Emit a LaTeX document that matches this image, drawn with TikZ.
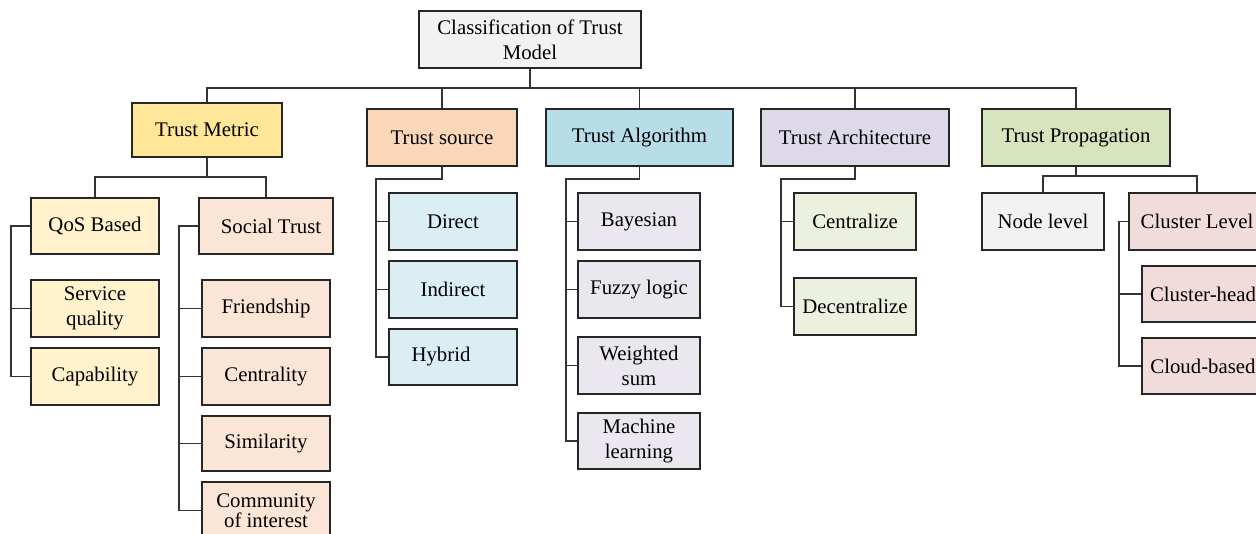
\documentclass[tikz,border=0pt]{standalone}
\usepackage{fontspec}
\setmainfont{Liberation Serif}
\definecolor{cTitle}{HTML}{F2F2F2}
\definecolor{cMetric}{HTML}{FFE699}
\definecolor{cMetricL}{HTML}{FFF2CC}
\definecolor{cSource}{HTML}{FAD7B8}
\definecolor{cSocialL}{HTML}{FBE5D6}
\definecolor{cAlg}{HTML}{B7DDE8}
\definecolor{cSourceL}{HTML}{DAEEF3}
\definecolor{cArch}{HTML}{DDD9E8}
\definecolor{cAlgL}{HTML}{EAE7EF}
\definecolor{cProp}{HTML}{D7E4BD}
\definecolor{cArchL}{HTML}{EBF1DE}
\definecolor{cCluster}{HTML}{F2DCDB}
\begin{document}
\begin{tikzpicture}[x=1pt,y=-1pt,
  box/.style={draw=black!85,line width=1.2pt,inner sep=0pt,align=center,
    font=\fontsize{20.8}{25}\selectfont},
  conn/.style={draw=black!80,line width=1.1pt}]
\useasboundingbox (0,0) rectangle (1256,534);
\clip (0,0) rectangle (1256,534);
% nodes
\node[box,fill=cTitle,minimum width=222pt,minimum height=57pt] (title) at (530,39.5) {Classification of Trust\\Model};
\node[box,fill=cMetric,minimum width=150pt,minimum height=54pt] (tm) at (207,130) {Trust Metric};
\node[box,fill=cSource,minimum width=150pt,minimum height=57pt] (ts) at (442,137.5) {Trust source};
\node[box,fill=cAlg,minimum width=187pt,minimum height=57pt] (ta) at (639.5,137.5) {Trust Algorithm};
\node[box,fill=cArch,minimum width=188pt,minimum height=57pt] (tar) at (855,137.5) {Trust Architecture};
\node[box,fill=cProp,minimum width=188pt,minimum height=57pt] (tp) at (1076,137.5) {Trust Propagation};
% metric children
\node[box,fill=cMetricL,minimum width=128pt,minimum height=56pt] (qos) at (95,226) {QoS Based};
\node[box,fill=cSocialL,minimum width=134pt,minimum height=56pt] (soc) at (266,226) {\hspace*{10pt}Social Trust};
\node[box,fill=cMetricL,minimum width=128pt,minimum height=57pt] (sq) at (95,308.5) {Service\\quality};
\node[box,fill=cMetricL,minimum width=128pt,minimum height=57pt] (cap) at (95,376.5) {Capability};
\node[box,fill=cSocialL,minimum width=128pt,minimum height=57pt] (fr) at (266,308.5) {Friendship};
\node[box,fill=cSocialL,minimum width=128pt,minimum height=57pt] (cen) at (266,376.5) {Centrality};
\node[box,fill=cSocialL,minimum width=128pt,minimum height=55pt] (sim) at (266,443.5) {Similarity};
\node[box,fill=cSocialL,minimum width=128pt,minimum height=57pt,font=\fontsize{20.8}{17}\selectfont] (com) at (266,510.5) {Community\\of interest};
% source children
\node[box,fill=cSourceL,minimum width=128pt,minimum height=57pt] (dir) at (453,221.5) {Direct};
\node[box,fill=cSourceL,minimum width=128pt,minimum height=57pt] (ind) at (453,289.5) {Indirect};
\node[box,fill=cSourceL,minimum width=128pt,minimum height=56pt] (hyb) at (453,357) {Hybrid\hspace*{24pt}};
% algorithm children
\node[box,fill=cAlgL,minimum width=122pt,minimum height=57pt] (bay) at (639,221.5) {Bayesian};
\node[box,fill=cAlgL,minimum width=122pt,minimum height=57pt] (fuz) at (639,289.5) {Fuzzy logic};
\node[box,fill=cAlgL,minimum width=122pt,minimum height=57pt] (wei) at (639,365.5) {Weighted\\sum};
\node[box,fill=cAlgL,minimum width=122pt,minimum height=56pt] (mac) at (639,441) {Machine\\learning};
% architecture children
\node[box,fill=cArchL,minimum width=122pt,minimum height=57pt] (cent) at (855,221.5) {Centralize};
\node[box,fill=cArchL,minimum width=122pt,minimum height=57pt] (dec) at (855,306.5) {Decentralize};
% propagation children
\node[box,fill=cTitle,minimum width=122pt,minimum height=57pt] (nl) at (1043,221.5) {Node level};
\node[box,fill=cCluster,minimum width=136pt,minimum height=57pt] (cl) at (1197,221.5) {Cluster Level};
\node[box,fill=cCluster,minimum width=122pt,minimum height=56pt] (ch) at (1203,294) {Cluster-head};
\node[box,fill=cCluster,minimum width=122pt,minimum height=56pt] (cb) at (1203,366) {Cloud-based};
% connectors
\coordinate (bus) at (530,88);
\draw[conn] (title.south) -- (bus);
\draw[conn] (bus) -| (tm.north);
\draw[conn] (bus) -| (ts.north);
\draw[conn] (bus) -| (ta.north);
\draw[conn] (bus) -| (tar.north);
\draw[conn] (bus) -| (tp.north);
\coordinate (tmb) at (207,177);
\draw[conn] (tm.south) -- (tmb) -| (qos.north);
\draw[conn] (tmb) -| (soc.north);
\coordinate (qc) at (11,226);
\draw[conn] (qos.west) -- (qc) |- (cap.west);
\draw[conn] (qc) |- (sq.west);
\coordinate (sc) at (179,226);
\draw[conn] (soc.west) -- (sc) |- (com.west);
\draw[conn] (sc) |- (fr.west);
\draw[conn] (sc) |- (cen.west);
\draw[conn] (sc) |- (sim.west);
\coordinate (tsc) at (376,179);
\draw[conn] (ts.south) |- (tsc) |- (hyb.west);
\draw[conn] (tsc) |- (dir.west);
\draw[conn] (tsc) |- (ind.west);
\coordinate (tac) at (566,179);
\draw[conn] (ta.south) |- (tac) |- (mac.west);
\draw[conn] (tac) |- (bay.west);
\draw[conn] (tac) |- (fuz.west);
\draw[conn] (tac) |- (wei.west);
\coordinate (tarc) at (781,179);
\draw[conn] (tar.south) |- (tarc) |- (dec.west);
\draw[conn] (tarc) |- (cent.west);
\coordinate (tpb) at (1076,176);
\draw[conn] (tp.south) -- (tpb) -| (nl.north);
\draw[conn] (tpb) -| (cl.north);
\coordinate (clc) at (1119,221.5);
\draw[conn] (cl.west) -- (clc) |- (cb.west);
\draw[conn] (clc) |- (ch.west);
\end{tikzpicture}
\end{document}
